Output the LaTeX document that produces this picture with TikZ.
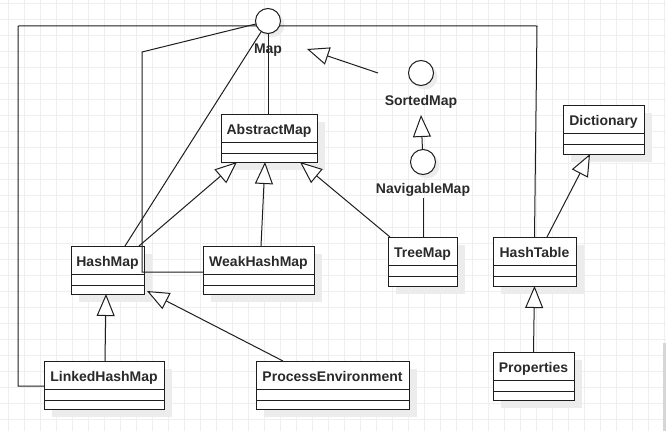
\documentclass[tikz,border=0pt]{standalone}
\usepackage{fontspec}
\setmainfont{Liberation Sans}
\usetikzlibrary{arrows.meta}
\definecolor{gridc}{HTML}{EFEFEF}
\definecolor{linec}{HTML}{1E1E1E}
\definecolor{shadowc}{HTML}{ECECEC}
\definecolor{textc}{HTML}{2A2A2A}
\tikzset{
  gridline/.style={draw=gridc, line width=0.9pt},
  conn/.style={draw=linec, line width=1pt},
  gen/.style={conn, -{Triangle[length=22pt,width=18pt,fill=white]}},
  classbox/.style={draw=linec, line width=1pt, fill=white, rectangle, inner sep=0pt, outer sep=0pt},
  classline/.style={draw=linec, line width=1pt},
  ifacecirc/.style={draw=linec, line width=1pt, fill=white, circle, minimum size=25pt, inner sep=0pt, outer sep=0pt},
  lbl/.style={font=\fontsize{14pt}{16pt}\selectfont\bfseries, text=textc, inner sep=0pt},
}
\newcommand\UMLbox[6]{%
  \fill[shadowc] ({#2+8},{#3+8}) rectangle ({#2+#4+8},{#3+#5+8});
  \node[classbox, minimum width=#4pt, minimum height=#5pt, anchor=north west] (#1) at (#2,#3) {};
  \draw[classline] ([yshift=-28pt]#1.north west) -- ([yshift=-28pt]#1.north east);
  \draw[classline] ([yshift=-39pt]#1.north west) -- ([yshift=-39pt]#1.north east);
  \node[lbl, anchor=base] (#1-name) at ([yshift=-20pt]#1.north) {#6};
}
\newcommand\UMLiface[3]{%
  \fill[shadowc] ({#2+4},{#3+4}) circle (12.5);
  \node[ifacecirc] (#1) at (#2,#3) {};
}
\begin{document}
\begin{tikzpicture}[x=1pt,y=-1pt]
\useasboundingbox (0,0) rectangle (666,431);
\fill[white] (0,0) rectangle (666,431);
\foreach \gx in {8,24,...,664} \draw[gridline] (\gx,0) -- (\gx,431);
\foreach \gy in {3,19,...,419} \draw[gridline] (0,\gy) -- (666,\gy);
\fill[black!16] (663,343) rectangle (666,431);

% classes
\UMLbox{am}{221}{114}{96}{48}{AbstractMap}
\UMLbox{hm}{71}{246}{73}{48}{HashMap}
\UMLbox{whm}{203}{246}{111}{48}{WeakHashMap}
\UMLbox{tm}{388}{237}{69}{49}{TreeMap}
\UMLbox{ht}{493}{237}{83}{49}{HashTable}
\UMLbox{dict}{563}{105}{81}{49}{Dictionary}
\UMLbox{prop}{493}{352}{81}{48}{Properties}
\UMLbox{lhm}{44}{361}{120}{48}{LinkedHashMap}
\UMLbox{pe}{256}{361}{153}{48}{ProcessEnvironment}

% interfaces
\UMLiface{map}{268}{21}
\UMLiface{sm}{421}{73}
\UMLiface{nav}{423}{162}

% bend points
\coordinate (c1) at (18,26);
\coordinate (c2) at (18,386);
\coordinate (c3) at (537,26);
\coordinate (c4) at (142,52);
\coordinate (c5) at (142,272);
\coordinate (navlow) at ([yshift=-36pt]nav.center);

% realizations of Map
\draw[conn] (map) -- (map |- am.north);
\draw[conn] (map.203.6) -- (c1) -- (c2) -- (c2 -| lhm.west);
\draw[conn] (map.-23.6) -- (c3) -- (ht.north);
\draw[conn] (map) -- (c4) -- (c5) -- (c5 -| whm.west);
\draw[conn] (map) -- ([xshift=17.5pt]hm.north);
\draw[conn] (navlow) -- (navlow |- tm.north);

% generalizations
\draw[gen] ([xshift=31.5pt]hm.north) -- ([xshift=-32pt]am.south);
\draw[gen] ([xshift=2.5pt]whm.north) -- ([xshift=-4pt]am.south);
\draw[gen] ([xshift=-32.5pt]tm.north) -- ([xshift=31pt]am.south);
\draw[gen] (nav) -- ([yshift=-42pt]sm.center);
\draw[gen] ([xshift=-43pt]sm.center) -- ([xshift=39pt,yshift=-28pt]map.center);
\draw[gen] ([xshift=12.5pt]ht.north) -- ([xshift=-13.5pt]dict.south);
\draw[gen] (prop.north) -- (ht.south);
\draw[gen] ([xshift=1pt]lhm.north) -- ([xshift=-1.5pt]hm.south);
\draw[gen] ([xshift=27pt]pe.north west) -- ([xshift=3pt,yshift=3pt]hm.south east);

% interface labels
\node[lbl, anchor=base] (map-name) at ([yshift=-32pt]map.center) {Map};
\node[lbl, anchor=base] (sm-name) at ([yshift=-32pt]sm.center) {SortedMap};
\node[lbl, anchor=base] (nav-name) at ([yshift=-31pt]nav.center) {NavigableMap};
\end{tikzpicture}
\end{document}
